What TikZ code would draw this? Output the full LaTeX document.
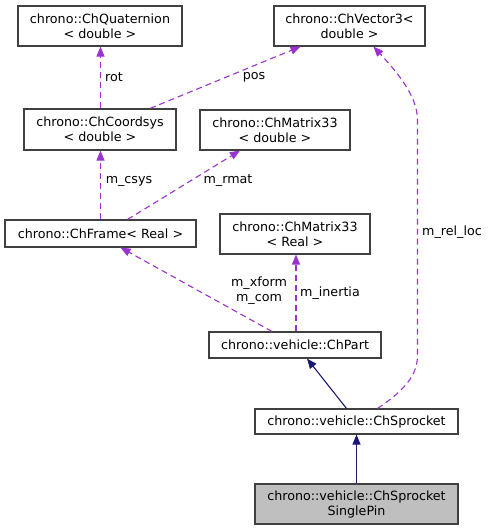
\documentclass[tikz,border=0pt]{standalone}
\usepackage{fontspec}
\setmainfont{DejaVu Sans}
\usetikzlibrary{arrows.meta,calc}
\definecolor{dep}{HTML}{9A32CD}
\definecolor{inh}{HTML}{191970}
\definecolor{bord}{HTML}{404040}
\begin{document}
\begin{tikzpicture}[x=1pt,y=-1pt,
  box/.style={draw=bord,line width=1.1pt,fill=white,inner sep=0pt,align=center,font=\fontsize{12.7}{15}\selectfont},
  lbl/.style={inner sep=0pt,align=center,font=\fontsize{12.7}{15}\selectfont},
  depline/.style={draw=dep,line width=1.1pt,dash pattern=on 6pt off 4pt,-{Triangle[length=10pt,width=8pt,fill=dep]}},
  inhline/.style={draw=inh,line width=1.1pt,-{Triangle[length=10pt,width=8pt,fill=inh]}}]
\useasboundingbox (0,0) rectangle (491,531);
\node[box,minimum width=164pt,minimum height=40pt] (quat) at (100,26) {chrono::ChQuaternion\\< double >};
\node[box,minimum width=151pt,minimum height=40pt] (vec) at (349.5,26) {chrono::ChVector3<\\double >};
\node[box,minimum width=152pt,minimum height=41pt] (csys) at (100,129.5) {chrono::ChCoordsys\\< double >};
\node[box,minimum width=150pt,minimum height=40pt] (m33d) at (275,130) {chrono::ChMatrix33\\< double >};
\node[box,minimum width=191pt,minimum height=27pt] (frame) at (100.5,233.5) {chrono::ChFrame< Real >};
\node[box,minimum width=150pt,minimum height=40pt] (m33r) at (295,234) {chrono::ChMatrix33\\< Real >};
\node[box,minimum width=172pt,minimum height=26pt] (part) at (295,345) {chrono::vehicle::ChPart};
\node[box,minimum width=203pt,minimum height=25pt] (spr) at (356.5,421.5) {chrono::vehicle::ChSprocket};
\node[box,fill={rgb,255:red,191;green,191;blue,191},minimum width=203pt,minimum height=40pt] (pin) at (356.5,504) {chrono::vehicle::ChSprocket\\SinglePin};

\draw[depline] ($(csys.north)+(0.5,0)$) -- ($(quat.south)+(0.5,0)$);
\draw[depline] ($(csys.north)+(50,0)$) -- ($(vec.south)+(-49,0)$);
\draw[depline] ($(frame.north)+(0,0)$) -- ($(csys.south)+(0.5,0)$);
\draw[depline] ($(frame.north)+(27,0)$) -- ($(m33d.south)+(-35,0)$);
\draw[depline] ($(part.north)+(-23,0)$) -- ($(frame.south)+(20,0)$);
\draw[depline] ($(part.north)+(1,0)$) -- ($(m33r.south)+(1,0)$);
\draw[depline] ($(spr.north)+(21,0)$) .. controls (405,390) and (417.5,375) .. (417.5,355)
  -- (417.5,120) .. controls (417.5,95) and (395,70) .. ($(vec.south)+(24,0)$);
\draw[inhline] ($(spr.north)+(-10,0)$) -- ($(part.south)+(12,0)$);
\draw[inhline] (pin.north) -- (spr.south);

\node[lbl] (lrot) at (114,77) {rot};
\node[lbl] (lpos) at (254,77) {pos};
\node[lbl] (lcsys) at (129,181) {m\_csys};
\node[lbl] (lrmat) at (228,181) {m\_rmat};
\node[lbl] (lxform) at (259,291) {m\_xform\\m\_com};
\node[lbl] (linert) at (330,293) {m\_inertia};
\node[lbl] (lrel) at (452,232) {m\_rel\_loc};
\end{tikzpicture}
\end{document}
